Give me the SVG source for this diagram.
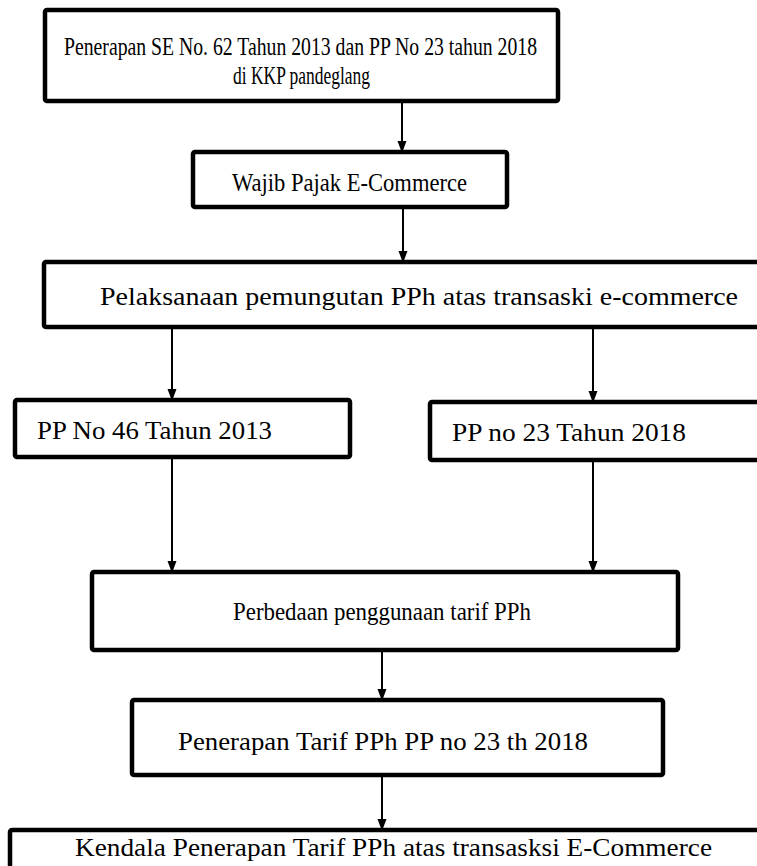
<svg xmlns="http://www.w3.org/2000/svg" width="757" height="866" viewBox="0 0 757 866">
<defs>
<marker id="ah" markerWidth="12" markerHeight="16" refX="12" refY="6" orient="auto" markerUnits="userSpaceOnUse" viewBox="0 0 16 12">
<path d="M0,0 L16,6 L0,12 z" fill="#000"/>
</marker>
<style>
.box{fill:#fff;stroke:#000;stroke-width:4.5;stroke-linejoin:round}
.t{font-family:"Liberation Serif","Times New Roman",serif;font-size:26px;fill:#000}
.s{font-size:25px}
.c{stroke:#000;stroke-width:2;fill:none}
</style>
</defs>
<rect width="757" height="866" fill="#fff"/>
<g id="n1">
<rect class="box" x="45" y="10" width="513" height="91" rx="2"/>
<text class="t s" x="64" y="55" textLength="473" lengthAdjust="spacingAndGlyphs">Penerapan SE No. 62 Tahun 2013 dan PP No 23 tahun 2018</text>
<text class="t s" x="233" y="84" textLength="137" lengthAdjust="spacingAndGlyphs">di KKP pandeglang</text>
</g>
<g id="n2">
<rect class="box" x="193" y="152" width="314" height="55" rx="2"/>
<text class="t" x="232" y="191" textLength="235" lengthAdjust="spacingAndGlyphs">Wajib Pajak E-Commerce</text>
</g>
<g id="n3">
<rect class="box" x="44" y="262" width="720" height="65" rx="2"/>
<text class="t" x="100" y="305" textLength="638" lengthAdjust="spacingAndGlyphs">Pelaksanaan pemungutan PPh atas transaski e-commerce</text>
</g>
<g id="n4">
<rect class="box" x="15" y="400" width="335" height="57" rx="2"/>
<text class="t" x="37" y="439" textLength="235" lengthAdjust="spacingAndGlyphs">PP No 46 Tahun 2013</text>
</g>
<g id="n5">
<rect class="box" x="430" y="402" width="340" height="58" rx="2"/>
<text class="t" x="452" y="441" textLength="234" lengthAdjust="spacingAndGlyphs">PP no 23 Tahun 2018</text>
</g>
<g id="n6">
<rect class="box" x="92" y="572" width="586" height="78" rx="2"/>
<text class="t" x="233" y="620" textLength="298" lengthAdjust="spacingAndGlyphs">Perbedaan penggunaan  tarif PPh</text>
</g>
<g id="n7">
<rect class="box" x="132" y="700" width="531" height="75" rx="2"/>
<text class="t" x="178" y="750" textLength="410" lengthAdjust="spacingAndGlyphs">Penerapan Tarif PPh PP no 23 th 2018</text>
</g>
<g id="n8">
<rect class="box" x="10" y="830" width="760" height="60" rx="2"/>
<text class="t" x="75" y="856" textLength="637" lengthAdjust="spacingAndGlyphs">Kendala Penerapan Tarif PPh atas transasksi E-Commerce</text>
</g>
<g id="connectors">
<line class="c" x1="402" y1="103" x2="402" y2="150" marker-end="url(#ah)"/>
<line class="c" x1="403" y1="209" x2="403" y2="260" marker-end="url(#ah)"/>
<line class="c" x1="172" y1="329" x2="172" y2="398" marker-end="url(#ah)"/>
<line class="c" x1="593" y1="329" x2="593" y2="400" marker-end="url(#ah)"/>
<line class="c" x1="172" y1="459" x2="172" y2="570" marker-end="url(#ah)"/>
<line class="c" x1="593" y1="462" x2="593" y2="570" marker-end="url(#ah)"/>
<line class="c" x1="382" y1="652" x2="382" y2="698" marker-end="url(#ah)"/>
<line class="c" x1="382" y1="777" x2="382" y2="828" marker-end="url(#ah)"/>
</g>
</svg>
